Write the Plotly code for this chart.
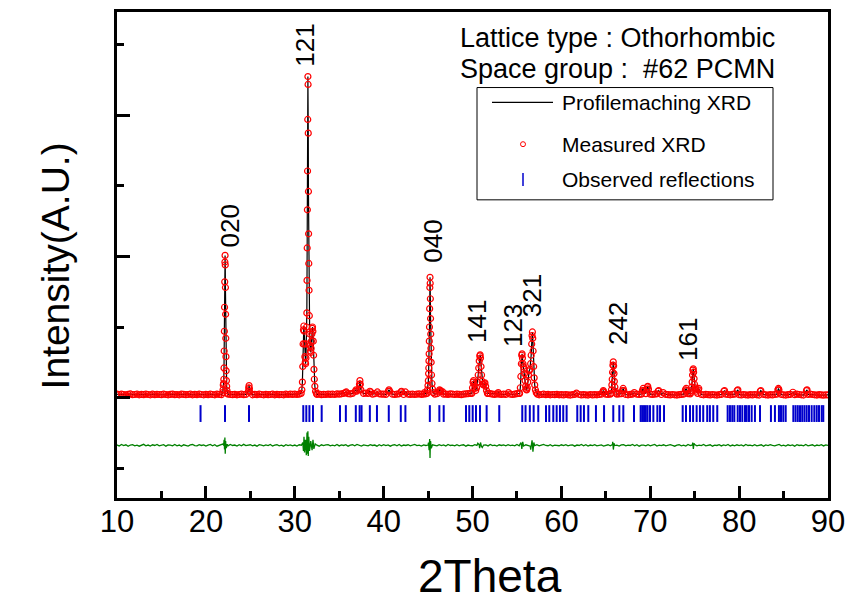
import plotly.graph_objects as go

# ------------------------------------------------------------------ data
# background of the measured scan, 2theta = 10.00 ... 90.00 step 0.25
bg_start = 10.0
bg_step = 0.25
bg_y = [
    24, 21, 25, 22, 20, 23, 26, 21, 22, 24, 20, 23, 21, 25, 22, 20, 24, 21, 23, 22,
    21, 24, 22, 20, 23, 25, 21, 22, 20, 24, 23, 21, 22, 25, 20, 23, 21, 24, 22, 20,
    23, 21, 24, 22, 20, 25, 22, 21, 23, 20, 24, 22, 21, 23, 20, 22, 24, 21, 23, 22,
    22, 20, 23, 21, 24, 22, 20, 23, 21, 22, 24, 20, 23, 21, 22, 20, 24, 22, 25, 23,
    24, 22, 25, 23, 26, 24, 28, 30, 27, 25, 22, 24, 21, 23, 22, 25, 23, 24, 22, 26,
    25, 27, 30, 33, 28, 26, 30, 35, 31, 28, 26, 29, 32, 30, 27, 25, 28, 31, 27, 24,
    25, 23, 28, 26, 24, 22, 25, 27, 24, 22, 26, 24, 23, 25, 22, 24, 26, 23, 25, 27,
    26, 24, 27, 25, 28, 30, 26, 24, 25, 23, 26, 24, 22, 25, 23, 21, 24, 26, 28, 30,
    32, 30, 28, 26, 30, 32, 34, 30, 28, 25, 23, 26, 24, 22, 25, 23, 21, 24, 22, 25,
    28, 30, 32, 30, 27, 25, 22, 24, 21, 23, 20, 22, 24, 21, 23, 20, 22, 21, 23, 20,
    21, 19, 22, 20, 18, 21, 23, 20, 22, 19, 21, 20, 18, 22, 19, 21, 20, 22, 24, 26,
    24, 22, 25, 23, 21, 24, 26, 28, 25, 22, 20, 23, 25, 27, 24, 22, 25, 27, 28, 26,
    24, 22, 25, 27, 24, 22, 20, 23, 21, 19, 22, 20, 18, 21, 23, 25, 27, 28, 26, 30,
    28, 26, 24, 22, 20, 23, 21, 19, 22, 20, 18, 21, 23, 25, 24, 22, 20, 23, 25, 22,
    21, 19, 22, 20, 18, 21, 19, 22, 20, 18, 21, 23, 20, 18, 21, 19, 22, 24, 26, 22,
    20, 18, 21, 23, 19, 21, 24, 22, 20, 18, 21, 23, 25, 22, 20, 18, 21, 19, 17, 20,
    19,
]

# strong reflections (measured points)
p020_x = [21.90, 21.93, 21.96, 21.99, 22.02, 22.04, 22.06, 22.08, 22.10, 22.12, 22.14,
          22.16, 22.18, 22.20, 22.22, 22.24, 22.26, 22.28, 22.31, 22.34, 22.38, 22.42]
p020_y = [35, 55, 90, 100, 130, 210, 330, 470, 640, 820, 960,
          1007, 940, 780, 590, 420, 290, 190, 120, 80, 50, 30]

p121_x = [30.72, 30.80, 30.86, 30.90, 30.94, 30.98, 31.02, 31.06, 31.10, 31.14,
          31.18, 31.22, 31.26, 31.30, 31.33, 31.36, 31.38, 31.40, 31.42, 31.44,
          31.46, 31.48, 31.50, 31.52, 31.54, 31.56, 31.58, 31.61, 31.64, 31.68,
          31.72, 31.76, 31.80, 31.84, 31.88, 31.92, 31.96, 32.00, 32.04, 32.08,
          32.12, 32.16, 32.20, 32.26, 32.34, 32.44]
p121_y = [30, 55, 110, 220, 380, 480, 507, 470, 380, 290,
          250, 240, 280, 380, 500, 600, 830, 1060, 1330, 1605,
          1970, 2274, 2218, 1873, 1460, 1160, 950, 760, 580, 450,
          370, 330, 320, 350, 400, 450, 490, 500, 470, 400,
          300, 200, 130, 80, 45, 30]

p040_x = [44.88, 44.94, 44.99, 45.03, 45.06, 45.08, 45.10, 45.12, 45.14, 45.16,
          45.18, 45.20, 45.22, 45.24, 45.26, 45.28, 45.30, 45.32, 45.35, 45.39,
          45.44, 45.50, 45.58]
p040_y = [30, 55, 85, 120, 170, 210, 260, 310, 400, 500,
          630, 780, 852, 810, 700, 560, 450, 350, 250, 160,
          100, 60, 35]

p141_x = [49.92, 50.00, 50.06, 50.12, 50.18, 50.26, 50.36, 50.46, 50.56, 50.64,
          50.70, 50.76, 50.82, 50.86, 50.90, 50.96, 51.02, 51.08, 51.16, 51.24,
          51.32, 51.40, 51.48, 51.58, 51.68]
p141_y = [30, 70, 110, 120, 95, 65, 50, 70, 110, 160,
          210, 260, 295, 303, 280, 220, 160, 115, 95, 90,
          100, 105, 80, 50, 30]

p123_x = [55.30, 55.38, 55.44, 55.50, 55.54, 55.58, 55.62, 55.68, 55.74, 55.80,
          55.86, 55.92, 55.98, 56.04, 56.10, 56.16, 56.22, 56.30, 56.38, 56.46,
          56.54, 56.60, 56.66, 56.70, 56.74, 56.78, 56.82, 56.88, 56.94, 57.00,
          57.08, 57.18, 57.30]
p123_y = [30, 70, 150, 240, 300, 310, 280, 240, 220, 200,
          170, 120, 80, 60, 55, 70, 110, 160, 190, 200,
          240, 300, 380, 440, 465, 420, 330, 220, 140, 90,
          55, 35, 25]

p242_x = [65.58, 65.64, 65.68, 65.72, 65.76, 65.80, 65.84, 65.88, 65.92, 65.96, 66.02, 66.10, 66.20]
p242_y = [30, 55, 90, 130, 180, 230, 253, 225, 170, 115, 75, 45, 30]

p161_x = [74.52, 74.60, 74.66, 74.71, 74.76, 74.80, 74.84, 74.88, 74.93, 74.98, 75.05, 75.13, 75.22, 75.32]
p161_y = [35, 50, 75, 110, 160, 195, 204, 180, 135, 95, 70, 60, 45, 30]

# weak reflections (measured points)
minor_x = [24.78, 24.82, 24.86, 24.90, 24.94,
           35.70, 35.80,
           36.82, 36.90, 36.98,
           37.22, 37.28, 37.33, 37.38, 37.44,
           38.45, 38.55,
           39.30,
           40.52, 40.60, 40.68,
           41.95, 42.02,
           42.45,
           44.60,
           46.22, 46.30, 46.38, 46.46, 46.66,
           52.90,
           54.05,
           61.70,
           64.66, 64.72, 64.78,
           66.88, 66.95, 67.02,
           68.20,
           69.12, 69.20, 69.30,
           69.62, 69.68, 69.72, 69.80,
           70.88, 70.95,
           71.45,
           73.96, 74.04, 74.12,
           75.40, 75.46,
           78.28, 78.36,
           79.78, 79.86,
           82.38, 82.44,
           84.36, 84.42, 84.48,
           86.05,
           87.58, 87.64]
minor_y = [45, 70, 85, 65, 40,
           35, 40,
           45, 55, 45,
           60, 95, 120, 95, 55,
           45, 40,
           40,
           45, 55, 45,
           40, 45,
           40,
           35,
           40, 55, 50, 45, 40,
           35,
           35,
           32,
           40, 50, 40,
           50, 65, 50,
           35,
           50, 65, 50,
           60, 75, 80, 60,
           45, 50,
           35,
           55, 65, 50,
           55, 65,
           45, 50,
           50, 55,
           45, 50,
           55, 65, 55,
           38,
           50, 55]

# difference (measured - calculated), same 0.25 grid, plus points at the peaks
diff_offset = -338
diff_grid = [
    3, -5, 6, -2, 4, -7, 2, 5, -4, 1, -6, 3, 7, -3, 2, -5, 4, -1, 6, -4,
    -2, 5, -6, 3, 1, -4, 6, -3, 2, -7, 4, 1, -5, 3, 6, -2, -4, 5, -1, 3,
    -5, 2, 6, -3, 4, -6, 1, 5, -2, 3, -4, 6, -1, 2, -5, 4, -3, 7, -2, 1,
    4, -3, 2, -6, 5, 1, -4, 3, -2, 6, -5, 2, 4, -3, 1, -6, 5, -2, 3, -4,
    2, -5, 4, 1, -3, 6, -4, 2, 5, -3, 1, -6, 4, -2, 3, 5, -4, 1, -3, 6,
    -4, 3, -1, 5, -6, 2, 4, -3, 6, -2, -5, 3, 1, -4, 5, -1, 2, -6, 4, -3,
    5, -2, 3, -6, 1, 4, -3, 6, -5, 2, -1, 4, -4, 3, 6, -2, 1, -5, 3, -1,
    2, -6, 4, 1, -3, 5, -2, 3, -5, 6, -1, 2, -4, 5, -3, 1, 4, -6, 2, -2,
    -3, 5, -1, 4, -6, 2, 3, -4, 6, -2, 1, -5, 4, -1, 3, -3, 5, -2, 1, -4,
    6, -3, 2, -5, 4, 1, -6, 3, -2, 5, -4, 2, 6, -1, -3, 4, -5, 2, 1, -3,
    4, -2, 5, -4, 1, 3, -6, 2, -1, 6, -3, 4, -5, 2, -2, 5, -4, 1, 3, -5,
    -1, 4, -3, 6, -2, 1, -5, 3, 5, -4, 2, -1, 6, -3, 4, -6, 2, 1, -4, 5,
    -3, 2, 6, -5, 1, -2, 4, -4, 3, 5, -1, -6, 2, 4, -3, 1, -5, 6, -2, 3,
    5, -4, 1, -2, 6, -3, 2, 4, -6, 1, -1, 5, -4, 3, -2, 6, -5, 2, -3, 4,
    -2, 3, -5, 6, -1, 2, -4, 5, -3, 1, 4, -6, 3, -2, 5, -1, -4, 2, 6, -3,
    1, -5, 4, -2, 3, -6, 5, -1, 2, -4, 6, -3, 1, 4, -5, 2, -2, 5, -4, 3,
    0,
]
diff_peak_x = [21.95, 22.05, 22.10, 22.14, 22.18, 22.22, 22.30, 22.40,
               30.90, 30.98, 31.04, 31.10, 31.20, 31.30, 31.38, 31.44, 31.48, 31.52,
               31.58, 31.66, 31.80, 31.95, 32.05, 32.15, 32.30,
               45.05, 45.12, 45.18, 45.22, 45.28, 45.36,
               50.60, 50.80, 50.90, 51.10,
               55.45, 55.55, 55.65, 56.55, 56.70, 56.80, 56.90,
               65.78, 65.85, 65.92,
               74.78, 74.85, 74.92]
diff_peak_y = [10, 40, -30, 55, -60, 30, -20, 8,
               20, -40, 60, -50, 40, -70, 90, -60, 100, -75,
               60, -40, 30, -35, 40, -25, 10,
               20, -35, 45, -90, 30, -20,
               15, -20, 20, -15,
               20, -25, 25, -30, 35, -45, 20,
               25, -30, 15,
               20, -25, 15]

# calculated Bragg positions (observed reflections)
refl_theta = [19.40, 22.15, 24.85, 30.96, 31.30, 31.65, 32.05, 33.03, 35.09, 35.75,
              36.87, 37.30, 37.52, 38.45, 39.25, 40.58, 41.93, 42.45, 45.20, 46.27,
              46.76, 49.27, 49.64, 50.02, 50.39, 50.84, 51.59, 53.01, 55.60, 55.97,
              56.45, 56.88, 57.40, 58.27, 58.64, 59.09, 59.47, 59.84, 60.21, 60.59,
              61.79, 62.17, 62.54, 63.03, 63.89, 64.80, 65.84, 66.52, 66.97, 68.17,
              68.92, 69.10, 69.30, 69.50, 69.70, 69.97, 70.35, 70.80, 71.10, 71.55,
              73.65, 74.02, 74.47, 74.82, 75.22, 75.59, 75.96, 76.41, 76.71, 77.09,
              77.54, 78.71, 78.97, 79.23, 79.46, 79.84, 80.10, 80.36, 80.66, 80.85,
              81.11, 81.41, 81.78, 82.35, 83.58, 84.03, 84.48, 84.71, 84.97, 85.24,
              86.10, 86.35, 86.60, 86.85, 87.10, 87.35, 87.60, 87.86, 88.16, 88.46,
              88.73, 88.99, 89.29, 89.47]
refl_level = -113

# hkl labels (position of label centre)
hkl_text = ["020", "121", "040", "141", "123", "321", "242", "161"]
hkl_theta = [22.70, 31.15, 45.56, 50.50, 54.56, 56.69, 66.37, 74.25]
hkl_level = [1218, 2499, 1105, 542, 507, 725, 528, 408]

# ------------------------------------------------------------------ assemble
assert len(p020_x) == len(p020_y) and len(p121_x) == len(p121_y)
assert len(p040_x) == len(p040_y) and len(p141_x) == len(p141_y)
assert len(p123_x) == len(p123_y) and len(p242_x) == len(p242_y)
assert len(p161_x) == len(p161_y) and len(minor_x) == len(minor_y)
assert len(diff_peak_x) == len(diff_peak_y) and len(diff_grid) == len(bg_y)

grid_x = [round(bg_start + i * bg_step, 2) for i in range(len(bg_y))]
segments = [(p020_x, p020_y), (p121_x, p121_y), (p040_x, p040_y), (p141_x, p141_y),
            (p123_x, p123_y), (p242_x, p242_y), (p161_x, p161_y)]

pts = []
for gx, gy in zip(grid_x, bg_y):
    if any(sx[0] <= gx <= sx[-1] for sx, _ in segments):
        continue
    if any(abs(gx - m) < 0.08 for m in minor_x):
        continue
    pts.append((gx, gy))
for sx, sy in segments:
    pts.extend(zip(sx, sy))
pts.extend(zip(minor_x, minor_y))
pts.sort()
meas_x = [p[0] for p in pts]
meas_y = [p[1] for p in pts]

dpts = sorted(list(zip(grid_x, diff_grid)) + list(zip(diff_peak_x, diff_peak_y)))
diff_x = [p[0] for p in dpts]
diff_y = [diff_offset + p[1] for p in dpts]

# ------------------------------------------------------------------ figure
FONT = "Liberation Sans, Arial, sans-serif"
PAGE_OFF = 8                       # default body margin of the html page
SL, SR, ST, SB = 117, 828, 9, 498  # plot area on screen (px)
W, H = 857 - PAGE_OFF, 603 - PAGE_OFF


def px_x(p):
    return (p - SL) / (SR - SL)


def px_y(p):
    return (SB - p) / (SB - ST)


fig = go.Figure()
fig.add_trace(go.Scatter(x=meas_x, y=meas_y, mode="lines",
                         line=dict(color="black", width=1.2), name="Profilemaching XRD"))
fig.add_trace(go.Scatter(x=meas_x, y=meas_y, mode="markers",
                         marker=dict(symbol="circle-open", size=6, color="#ff0000",
                                     line=dict(width=1.2, color="#ff0000")),
                         name="Measured XRD"))
fig.add_trace(go.Scatter(x=refl_theta, y=[refl_level] * len(refl_theta), mode="markers",
                         marker=dict(symbol="line-ns-open", size=12, color="#0000cc",
                                     line=dict(width=2, color="#0000cc")),
                         name="Observed reflections"))
fig.add_trace(go.Scatter(x=diff_x, y=diff_y, mode="lines",
                         line=dict(color="#008000", width=1.3), name="Difference"))

annotations = []
for t, x, y in zip(hkl_text, hkl_theta, hkl_level):
    annotations.append(dict(x=x, y=y, xref="x", yref="y", text=t, textangle=-90,
                            showarrow=False, font=dict(family=FONT, size=26, color="black"),
                            xanchor="center", yanchor="middle"))

annotations += [
    dict(x=px_x(55), y=px_y(265), xref="paper", yref="paper", text="Intensity(A.U.)",
         textangle=-90, showarrow=False, font=dict(family=FONT, size=39, color="black"),
         xanchor="center", yanchor="middle"),
    dict(x=px_x(490), y=px_y(576), xref="paper", yref="paper", text="2Theta",
         showarrow=False, font=dict(family=FONT, size=46, color="black"),
         xanchor="center", yanchor="middle"),
    dict(x=px_x(458), y=px_y(35), xref="paper", yref="paper",
         text="Lattice type : Othorhombic", showarrow=False,
         font=dict(family=FONT, size=27, color="black"), xanchor="left", yanchor="middle"),
    dict(x=px_x(458), y=px_y(66), xref="paper", yref="paper",
         text="Space group :\u00a0 #62 PCMN", showarrow=False,
         font=dict(family=FONT, size=27, color="black"), xanchor="left", yanchor="middle"),
]
for txt, yy in [("Profilemaching XRD", 100), ("Measured XRD", 142), ("Observed reflections", 178)]:
    annotations.append(dict(x=px_x(560), y=px_y(yy), xref="paper", yref="paper", text=txt,
                            showarrow=False, font=dict(family=FONT, size=21, color="black"),
                            xanchor="left", yanchor="middle"))

shapes = [
    dict(type="rect", xref="paper", yref="paper", x0=px_x(477), x1=px_x(773),
         y0=px_y(198), y1=px_y(85), line=dict(color="black", width=1)),
    dict(type="line", xref="paper", yref="paper", x0=px_x(492), x1=px_x(553),
         y0=px_y(100), y1=px_y(100), line=dict(color="black", width=1.2)),
    dict(type="circle", xref="paper", yref="paper", x0=px_x(520.5), x1=px_x(525.5),
         y0=px_y(144.5), y1=px_y(139.5), line=dict(color="#ff0000", width=1)),
    dict(type="line", xref="paper", yref="paper", x0=px_x(523), x1=px_x(523),
         y0=px_y(184), y1=px_y(171), line=dict(color="#0000cc", width=1.5)),
]

fig.update_layout(
    width=W, height=H,
    margin=dict(l=SL - PAGE_OFF, r=857 - SR, t=ST - PAGE_OFF, b=603 - SB, pad=0),
    paper_bgcolor="white", plot_bgcolor="white",
    showlegend=False,
    annotations=annotations, shapes=shapes,
    font=dict(family=FONT, color="black"),
)
fig.update_xaxes(range=[10, 90], tick0=10, dtick=10, ticks="inside", ticklen=12, tickwidth=2.5,
                 tickcolor="black", showline=True, linewidth=3, linecolor="black", mirror=True,
                 showgrid=False, zeroline=False, ticklabelstandoff=-6,
                 tickfont=dict(family=FONT, size=31, color="black"),
                 minor=dict(dtick=5, ticks="inside", ticklen=7, tickwidth=2.5, tickcolor="black",
                            showgrid=False))
fig.update_yaxes(range=[-711, 2731], tick0=0, dtick=1000, ticks="inside", ticklen=13, tickwidth=3,
                 tickcolor="black", showline=True, linewidth=3, linecolor="black", mirror=True,
                 showgrid=False, zeroline=False, showticklabels=False,
                 minor=dict(dtick=500, ticks="inside", ticklen=7, tickwidth=3, tickcolor="black",
                            showgrid=False))

fig.write_html("out.html")
